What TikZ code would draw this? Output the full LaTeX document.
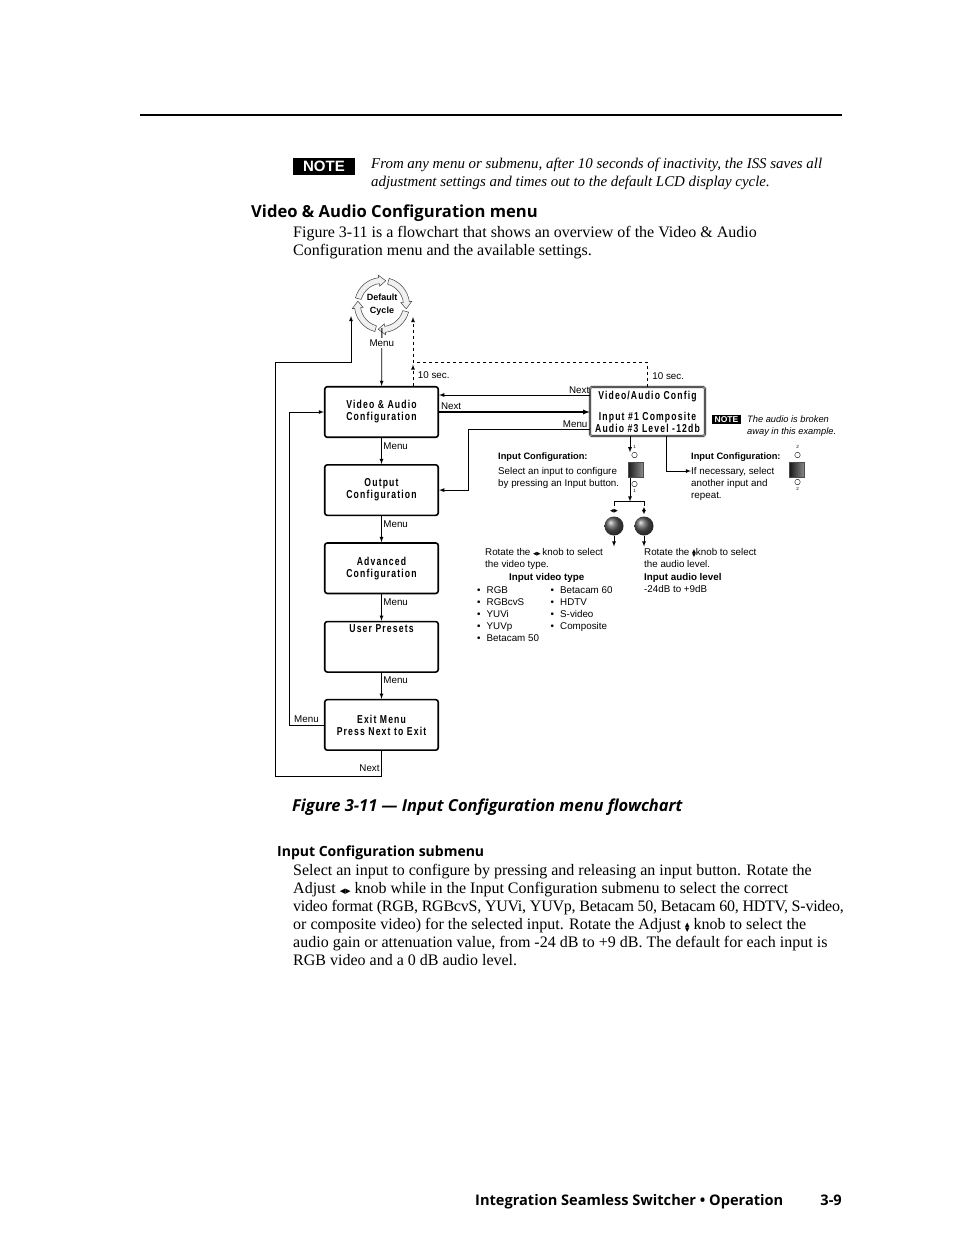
\documentclass[tikz,border=0pt]{standalone}
\usepackage{fontspec}
\usepackage{graphicx}
\setmainfont{Liberation Serif}
\setsansfont{Liberation Sans}
\newfontfamily\headfont{Open Sans}
\newfontfamily\boxfont{Liberation Sans}[FakeStretch=0.75,LetterSpace=10]
\newfontfamily\symfont{DejaVu Sans}
\usetikzlibrary{positioning,shadings}

\newcommand{\lrsym}[1]{{\symfont\fontsize{#1}{#1}\selectfont ◀▶}}
\newcommand{\udsym}[1]{\raisebox{-0.2em}{\rotatebox{90}{\symfont\fontsize{#1}{#1}\selectfont ◀▶}}}
\newcommand{\cfgtitle}{{\fontsize{9.3}{12}\selectfont\bfseries Input Configuration:}}

\tikzset{
  bodytext/.style = {font=\fontsize{16}{18}\selectfont, inner sep=0pt, align=left},
  headtext/.style = {font=\headfont\bfseries\fontsize{16.6}{18}\selectfont, inner sep=0pt},
  notetag/.style  = {fill=black, text=white, inner sep=0pt,
                     font=\sffamily\bfseries\fontsize{15}{15}\selectfont},
  menubox/.style  = {draw, line width=1.6pt, rounded corners=2.5pt,
                     minimum width=113.5pt, minimum height=50.5pt,
                     align=center, inner sep=0pt,
                     font=\boxfont\bfseries\fontsize{11.5}{12}\selectfont},
  lcdbox/.style   = {menubox, rounded corners=1.5pt, line width=0.6pt, draw=black!85,
                     double=black!30, double distance=0.9pt,
                     minimum width=115pt, minimum height=49pt},
  lbl/.style      = {font=\sffamily\fontsize{9.8}{12}\selectfont, inner sep=1.5pt},
  txt/.style      = {lbl, inner sep=0pt, align=left, anchor=north west},
  led/.style      = {circle, draw, line width=0.4pt, minimum size=5.5pt, inner sep=0pt},
  inbutton/.style = {draw=black!70, minimum size=15pt, inner sep=0pt,
                     left color=black!90, right color=black!45},
  knob/.style     = {circle, minimum size=19pt, inner sep=0pt, ball color=black!65},
  pinlabel/.style = {font=\sffamily\fontsize{4.5}{4.5}\selectfont, inner sep=0pt},
  cyclearrow/.style = {draw=black!75, fill=black!6, line width=0.5pt},
  flow/.style     = {line width=0.8pt, -latex},
  timeout/.style  = {flow, dashed}
}

\begin{document}
\begin{tikzpicture}[x=1pt, y=-1pt]
\fill[white] (0,0) rectangle (954,1235);
\useasboundingbox (0,0) rectangle (954,1235);

% page head
\draw[line width=1.6pt] (140,115) -- (842,115);
\node[notetag, minimum width=62pt, minimum height=17pt] (pagenote) at (324,166) {NOTE};
\node[bodytext, font=\itshape\fontsize{14.9}{18}\selectfont, anchor=north west] (notetext) at (371,155.4)
  {\strut From any menu or submenu, after 10 seconds of inactivity, the ISS saves all\\
   adjustment settings and times out to the default LCD display cycle.};
\node[headtext, anchor=base west] (vahead) at (251,217) {Video \& Audio Configuration menu};
\node[bodytext, anchor=north west] (intro) at (293,224.4)
  {\strut Figure 3-11 is a flowchart that shows an overview of the Video \& Audio\\
   Configuration menu and the available settings.};

% default cycle
\node[circle, minimum size=46pt, inner sep=0pt, align=center,
      font=\sffamily\bfseries\fontsize{9}{13}\selectfont] (cyc) at (382,305) {Default\\Cycle};
\begin{scope}[shift={(382,305)}, y=1pt]
  \foreach \a in {165,75,-15,-105}
    \draw[cyclearrow] (\a:27.5) arc[start angle=\a, end angle=\a-68, radius=27.5]
      -- ({\a-68}:30) -- ({\a-84}:24.5) -- ({\a-68}:19) -- ({\a-68}:21.5)
      arc[start angle=\a-68, end angle=\a, radius=21.5] -- cycle;
\end{scope}
\coordinate (cycW) at (351,316);
\coordinate (cycE) at (413,317);

% menu column
\node[menubox] (vac) at (381.5,412) {Video \& Audio\\Configuration};
\node[menubox, below=26pt of vac] (outc) {Output\\Configuration};
\node[menubox, below=26pt of outc] (advc) {Advanced\\Configuration};
\node[menubox, below=26.5pt of advc,
      label={[anchor=north, inner sep=4pt, font=\boxfont\bfseries\fontsize{11.5}{12}\selectfont]north:User Presets}] (upre) {};
\node[menubox, below=26pt of upre] (exitm) {Exit Menu\\Press Next to Exit};

\draw[flow] (cyc) -- node[lbl, fill=white, pos=0.26] {Menu} (vac);
\foreach \a/\b in {vac/outc, outc/advc, advc/upre, upre/exitm}
  \draw[flow] (\a) -- node[lbl, right, pos=0.3] {Menu} (\b);
\draw[flow] (exitm.south) |- (275,776) node[lbl, pos=0.34, left] {Next} |- (351,362) -- (cycW);
\draw[flow] (exitm.west) -- node[lbl, above] {Menu} ++(-35,0) |- (vac.west);

% lcd display
\node[lcdbox] (lcd) at (647.5,411.5) {Video/Audio Config\\[9pt]Input \#1 Composite\\Audio \#3 Level -12db};
\draw[flow] ([yshift=16.5pt]lcd.west) -- node[lbl, above, pos=0.07] {Next} ([yshift=17pt]vac.east);
\draw[flow, line width=1.3pt] (vac.east) -- node[lbl, above, pos=0.08] {Next} (vac.east -| lcd.west);
\draw[flow] ([yshift=-17.5pt]lcd.west) -- node[lbl, above, pos=0.12] {Menu} ++(-121,0) |- (outc.east);
\draw[timeout] (lcd.north) |- node[lbl, right, pos=0.21, xshift=3pt] {10 sec.} (413,362) -- (cycE);
\draw[timeout] ([xshift=31.5pt]vac.north) -- node[lbl, right, xshift=3pt] {10 sec.} (413,364.5);

\node[notetag, font=\sffamily\bfseries\fontsize{8.5}{8.5}\selectfont,
      minimum width=29pt, minimum height=9.5pt] (lcdnote) at (726.5,419.5) {NOTE};
\node[txt, font=\sffamily\itshape\fontsize{9.3}{12}\selectfont] (notetxt) at (747,413.5)
  {\strut The audio is broken\\away in this example.};

% input buttons
\node[led] (ledA1) at (634.5,455) {};
\node[pinlabel] at (634.5,446.5) {1};
\node[inbutton] (btnA) at (635.5,470) {};
\node[led] (ledA2) at (634.5,484) {};
\node[pinlabel] at (634.5,490.5) {1};
\node[led] (ledB1) at (797.5,455) {};
\node[pinlabel] at (797.5,446.5) {2};
\node[inbutton] (btnB) at (797,469.5) {};
\node[led] (ledB2) at (797.5,482) {};
\node[pinlabel] at (797.5,489) {2};

\node[txt] (lcfg) at (498,450.5) {\strut\cfgtitle};
\node[txt] (lsel) at (498,465.5) {\strut Select an input to configure\\by pressing an Input button.};
\node[txt] (rcfg) at (691,450.5) {\strut\cfgtitle};
\node[txt] (rsel) at (691,465.5) {\strut If necessary, select\\another input and\\repeat.};

\draw[flow] ([xshift=-17.5pt]lcd.south) -- ([xshift=-5.5pt, yshift=10pt]btnA.north);
\coordinate (brk) at (630,501.5);
\draw[flow] ([xshift=-5.5pt]btnA.south) -- (brk);
\draw[flow] ([xshift=19pt]lcd.south) |- ([yshift=-5.5pt]rsel.north west);

% knobs
\node[knob] (kvid) at (614,526) {};
\node[knob] (kaud) at (644,526) {};
\draw[line width=0.8pt] ([yshift=10.5pt]kvid.north) |- (brk) -| ([yshift=10.5pt]kaud.north);
\node[lbl, inner sep=0pt] at (614,511) {\lrsym{5}};
\node[lbl, inner sep=0pt] at (644,511) {\udsym{5}};

\node[txt] (rotv) at (485,546.5) {\strut Rotate the \lrsym{5}\,knob to select\\the video type.};
\node[txt] (vtype) at (509,571.5) {\strut\textbf{Input video type}};
\node[txt] (vlist1) at (477,584.5)
  {\strut\makebox[9.5pt][l]{•}RGB\\\makebox[9.5pt][l]{•}RGBcvS\\\makebox[9.5pt][l]{•}YUVi\\
   \makebox[9.5pt][l]{•}YUVp\\\makebox[9.5pt][l]{•}Betacam 50};
\node[txt] (vlist2) at (550.5,584.5)
  {\strut\makebox[9.5pt][l]{•}Betacam 60\\\makebox[9.5pt][l]{•}HDTV\\\makebox[9.5pt][l]{•}S-video\\
   \makebox[9.5pt][l]{•}Composite};
\node[txt] (rota) at (644,546.5)
  {\strut Rotate the \udsym{5}knob to select\\the audio level.\\[1pt]\textbf{Input audio level}\\-24dB to +9dB};
\draw[flow] (kvid.south) -- (kvid.south |- rotv.north);
\draw[flow] (kaud.south) -- (kaud.south |- rota.north);

% caption and text below
\node[headtext, font=\headfont\bfseries\itshape\fontsize{16.5}{18}\selectfont, anchor=base west]
  (caption) at (292,811) {Figure 3-11 — Input Configuration menu flowchart};
\node[headtext, font=\headfont\bfseries\fontsize{14}{18}\selectfont, anchor=base west]
  (subhead) at (277,856) {Input Configuration submenu};
\node[bodytext, anchor=north west] (subtext) at (293,862.4)
  {\strut Select an input to configure by pressing and releasing an input button.  Rotate the\\
   Adjust \lrsym{7} knob while in the Input Configuration submenu to select the correct\\
   {\addfontfeature{LetterSpace=-1.5}video format (RGB, RGBcvS, YUVi, YUVp, Betacam 50, Betacam 60, HDTV, S-video,}\\
   or composite video) for the selected input.  Rotate the Adjust \udsym{6} knob to select the\\
   audio gain or attenuation value, from -24 dB to +9 dB.  The default for each input is\\
   RGB video and a 0 dB audio level.};

% footer
\node[headtext, font=\headfont\bfseries\fontsize{14.6}{16}\selectfont, anchor=base west]
  (foot) at (475,1205) {Integration Seamless Switcher • Operation};
\node[headtext, font=\headfont\bfseries\fontsize{14.6}{16}\selectfont, anchor=base east]
  (pageno) at (842,1205) {3-9};
\end{tikzpicture}
\end{document}
